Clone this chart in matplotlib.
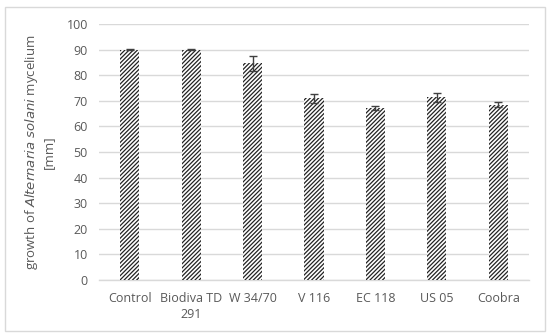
import matplotlib.pyplot as plt
import matplotlib.patches as mpatches
import numpy as np

categories = ["Control", "Biodiva TD\n291", "W 34/70", "V 116", "EC 118", "US 05", "Coobra"]
growth = [90.0, 90.0, 84.6, 71.0, 67.2, 71.3, 68.5]
errors = [0.2, 0.2, 3.0, 1.8, 0.8, 1.6, 1.0]

plt.rcParams["font.family"] = ["Open Sans", "DejaVu Sans"]
plt.rcParams["hatch.linewidth"] = 0.9
text_color = "#595959"
grid_color = "#d9d9d9"

fig = plt.figure(figsize=(5.5, 3.36), dpi=100)
ax = fig.add_axes([99 / 550, 1 - 280 / 336, 430 / 550, 256 / 336])

x = np.arange(len(categories))
ax.bar(x, growth, width=0.31, color="white", edgecolor="#222222", hatch="////////",
       linewidth=0, zorder=3)
ax.errorbar(x, growth, yerr=errors, fmt="none", ecolor="#404040", elinewidth=1,
            capsize=3, capthick=1, zorder=4)

ax.set_xlim(-0.5, len(categories) - 0.5)
ax.set_ylim(0, 100)
ax.set_yticks(np.arange(0, 101, 10))
ax.set_xticks(x)
ax.set_xticklabels(categories)
ax.yaxis.grid(True, color=grid_color, linewidth=1, zorder=0)
ax.tick_params(axis="both", length=0, labelsize=9, colors=text_color, pad=8)
ax.tick_params(axis="x", pad=9)
for side in ["top", "right", "left"]:
    ax.spines[side].set_visible(False)
ax.spines["bottom"].set_color(grid_color)
ax.spines["bottom"].set_linewidth(1)

ax.set_ylabel("growth of $\\it{Alternaria\\ solani}$ mycelium\n[mm]",
              fontsize=9.5, color=text_color, labelpad=8)

border = mpatches.Rectangle((5 / 550, 1 - 331 / 336), 540 / 550, 324 / 336,
                            transform=fig.transFigure, fill=False,
                            edgecolor=grid_color, linewidth=1)
fig.patches.append(border)

fig.savefig("out.png", dpi=100)
